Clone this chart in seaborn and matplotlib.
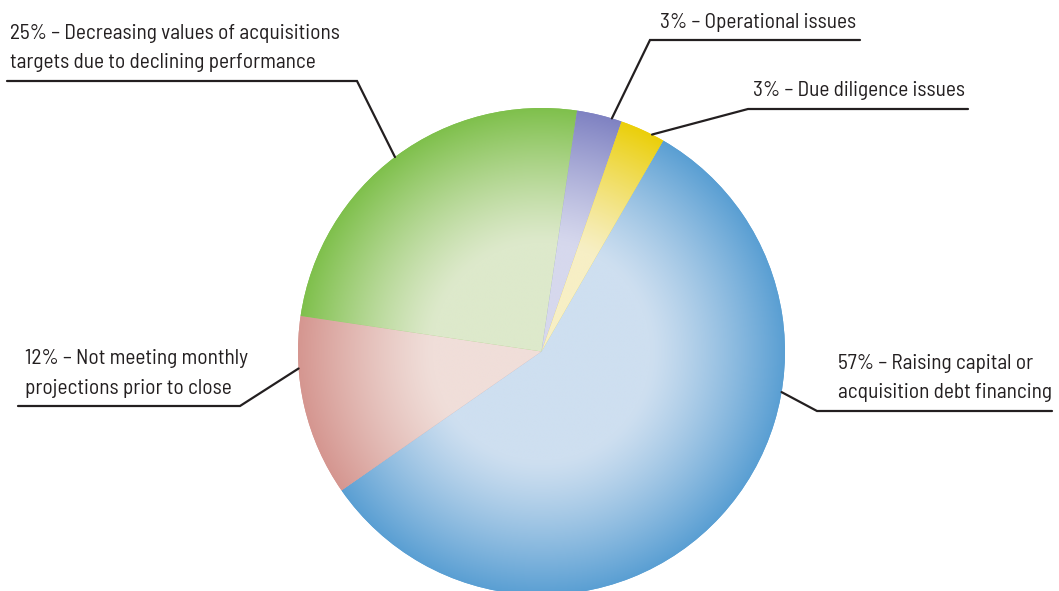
import numpy as np
import matplotlib
matplotlib.use("Agg")
import matplotlib.pyplot as plt
import seaborn as sns
from matplotlib import font_manager
from matplotlib.colors import to_rgb

# Reasons deals failed to close (share of respondents, %)
shares = [57, 12, 25, 3, 3]
labels = [
    "57% – Raising capital or\nacquisition debt financing",
    "12% – Not meeting monthly\nprojections prior to close",
    "25% – Decreasing values of acquisitions\ntargets due to declining performance",
    "3% – Operational issues",
    "3% – Due diligence issues",
]
rim_colors = ["#5a9fd3", "#d59690", "#7fc04c", "#7f82c2", "#ebcf0a"]
core_colors = ["#cedff0", "#f0ded9", "#dde9cb", "#d6d8ed", "#f7efc5"]

sns.set_theme(style="white")

avail = {f.name for f in font_manager.fontManager.ttflist}
preferred = ["Barlow Semi Condensed", "Barlow Condensed", "Roboto Condensed",
             "PT Sans Narrow", "Saira SemiCondensed", "Sofia Sans Condensed"]
family = [f for f in preferred if f in avail][:1] + ["DejaVu Sans"]
plt.rcParams["font.family"] = family

W, H = 1059, 591
fig = plt.figure(figsize=(W / 100, H / 100), dpi=100)
ax = fig.add_axes([0, 0, 1, 1])

cx, cy, R = 541.5, H - 351.5, 243.5
wedges, _ = ax.pie(shares, colors=rim_colors, startangle=60, counterclock=False,
                   radius=R, center=(cx, cy), frame=True,
                   wedgeprops=dict(linewidth=0))
ax.set_xlim(0, W)
ax.set_ylim(0, H)
ax.set_aspect("equal")
ax.axis("off")

# radial shading: pale core fading to the saturated rim
n = 700
xs = np.linspace(cx - R, cx + R, n)
ys = np.linspace(cy - R, cy + R, n)
X, Y = np.meshgrid(xs, ys)
D = np.hypot(X - cx, Y - cy) / R
t = np.clip((D - 0.45) / 0.55, 0, 1) ** 1.2
for w, rim, core in zip(wedges, rim_colors, core_colors):
    c0 = np.array(to_rgb(core))
    c1 = np.array(to_rgb(rim))
    img = c0[None, None, :] * (1 - t[..., None]) + c1[None, None, :] * t[..., None]
    im = ax.imshow(img, extent=(cx - R, cx + R, cy - R, cy + R), origin="lower",
                   interpolation="bilinear", zorder=2)
    im.set_clip_path(w)

# leader lines: anchor angle on the rim, elbow point, far end of the underline
anchor_deg = [-9.6, 184.0, 127.0, 73.2, 63.0]
elbows = [(817, 411), (240, 406), (357, 81), (650, 40), (748, 109)]
line_ends = [1052, 18, 7, 860, 968]
text_x = [838, 25, 10, 660, 753]
ink = "#231f20"
line_gap = 29.5
for lab, ang, (ex, ey), xe, tx in zip(labels, anchor_deg, elbows, line_ends, text_x):
    a = np.deg2rad(ang)
    axp, ayp = cx + R * np.cos(a), cy + R * np.sin(a)
    ax.plot([axp, ex, xe], [ayp, H - ey, H - ey], color=ink, lw=1.6,
            solid_joinstyle="miter", zorder=3)
    rows = lab.split("\n")
    base = H - ey + 12.5
    for k, row in enumerate(reversed(rows)):
        ax.text(tx, base + k * line_gap, row, ha="left", va="baseline",
                fontsize=15.4, color=ink, zorder=4)

fig.savefig("out.png", dpi=100)
